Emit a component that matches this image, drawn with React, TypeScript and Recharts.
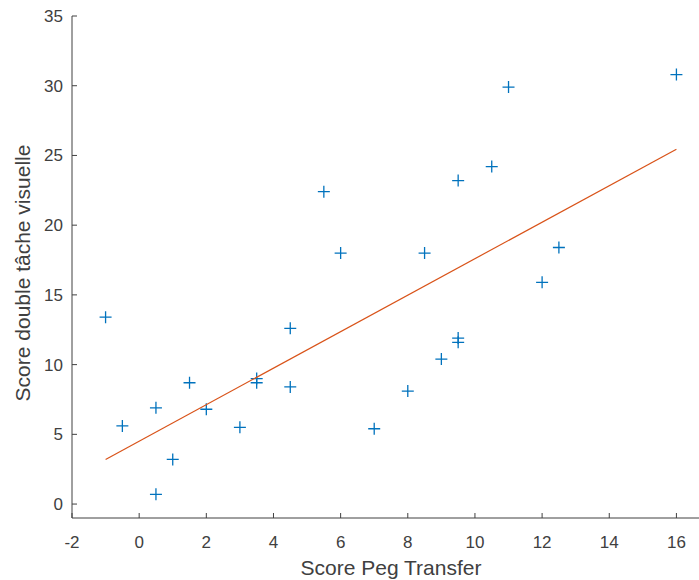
import React from 'react';
import { ScatterChart, Scatter, XAxis, YAxis, Label } from 'recharts';

// points (Peg Transfer score vs visual dual-task score)
const pegScores = [-1, -0.5, 0.5, 0.5, 1, 1.5, 2, 3, 3.5, 3.5, 4.5, 4.5, 5.5, 6, 7, 8, 8.5, 9, 9.5, 9.5, 9.5, 10.5, 11, 12, 12.5, 16];
const dualScores = [13.4, 5.6, 6.9, 0.7, 3.2, 8.7, 6.8, 5.5, 9.0, 8.7, 12.6, 8.4, 22.4, 18.0, 5.4, 8.1, 18.0, 10.4, 11.9, 11.6, 23.2, 24.2, 29.9, 15.9, 18.4, 30.8];

// regression line end points
const fitX = [-1, 16];
const fitY = [3.2, 25.45];

const xTicks = [-2, 0, 2, 4, 6, 8, 10, 12, 14, 16];
const yTicks = [0, 5, 10, 15, 20, 25, 30, 35];

const points = pegScores.map((x, i) => ({ x, y: dualScores[i] }));
const fit = fitX.map((x, i) => ({ x, y: fitY[i] }));

const axisColor = '#404040';
const font = '"Liberation Sans", Arial, sans-serif';

const Plus = (props: any) => {
    const { cx, cy } = props;
    if (cx == null || cy == null) return null;
    return (
        <path
            d={`M${cx - 6},${cy} L${cx + 6},${cy} M${cx},${cy - 6} L${cx},${cy + 6}`}
            stroke="#0072BD"
            strokeWidth={1.3}
            fill="none"
        />
    );
};

const YTick = (props: any) => {
    const { x, y, payload } = props;
    return (
        <g>
            <line x1={x} y1={y} x2={x + 5} y2={y} stroke={axisColor} strokeWidth={1} />
            <text x={x - 9} y={y} dy="0.35em" textAnchor="end" fill={axisColor} fontSize={17} fontFamily={font}>
                {payload.value}
            </text>
        </g>
    );
};

const XTick = (props: any) => {
    const { x, y, payload } = props;
    return (
        <g>
            <line x1={x} y1={y} x2={x} y2={y - 5} stroke={axisColor} strokeWidth={1} />
            <text x={x} y={y + 24} dy="0.35em" textAnchor="middle" fill={axisColor} fontSize={17} fontFamily={font}>
                {payload.value}
            </text>
        </g>
    );
};

const XTitle = (props: any) => {
    const { viewBox } = props;
    return (
        <text x={viewBox.x + viewBox.width / 2} y={viewBox.y + 50} dy="0.35em" textAnchor="middle" fill={axisColor} fontSize={21} fontFamily={font}>
            Score Peg Transfer
        </text>
    );
};

const YTitle = (props: any) => {
    const { viewBox } = props;
    const cx = 23;
    const cy = viewBox.y + viewBox.height / 2 + 6;
    return (
        <text x={cx} y={cy} dy="0.35em" textAnchor="middle" transform={`rotate(-90, ${cx}, ${cy})`} fill={axisColor} fontSize={21} fontFamily={font}>
            Score double tâche visuelle
        </text>
    );
};

const NoShape = () => null;

export default function App() {
    return (
        <div style={{ position: 'absolute', left: 0, top: 0, width: 699, height: 580, overflow: 'hidden', background: '#fff' }}>
            <ScatterChart width={720} height={580} margin={{ top: 16, right: 10, left: 0, bottom: 0 }}>
                <XAxis
                    type="number"
                    dataKey="x"
                    domain={[-2, 17]}
                    ticks={xTicks}
                    height={62}
                    tickSize={0}
                    tickMargin={0}
                    tickLine={false}
                    tick={<XTick />}
                    stroke={axisColor}
                    allowDataOverflow
                >
                    <Label content={<XTitle />} />
                </XAxis>
                <YAxis
                    type="number"
                    dataKey="y"
                    domain={[-1, 35]}
                    ticks={yTicks}
                    width={72}
                    tickSize={0}
                    tickMargin={0}
                    tickLine={false}
                    tick={<YTick />}
                    stroke={axisColor}
                    allowDataOverflow
                >
                    <Label content={<YTitle />} />
                </YAxis>
                <Scatter data={points} shape={<Plus />} isAnimationActive={false} />
                <Scatter data={fit} line={{ stroke: '#D95319', strokeWidth: 1.2 }} shape={<NoShape />} isAnimationActive={false} />
            </ScatterChart>
        </div>
    );
}
